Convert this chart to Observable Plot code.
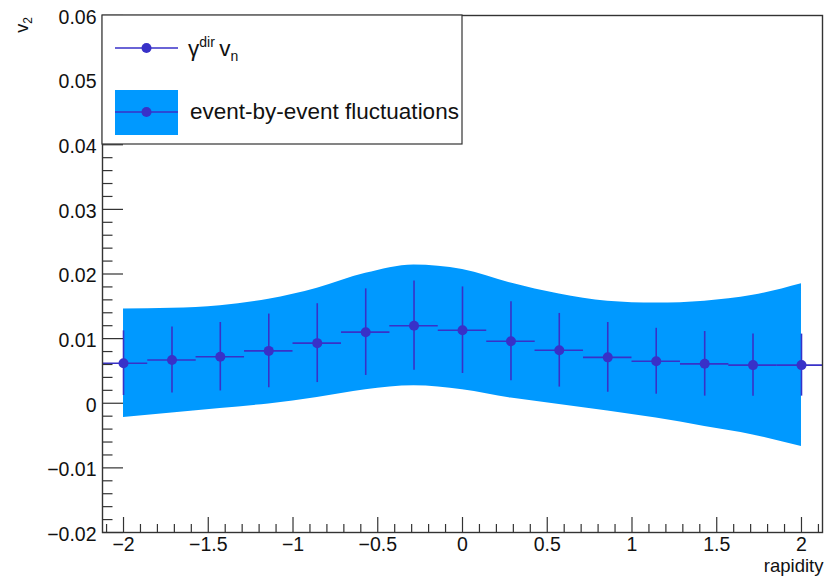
<!DOCTYPE html>
<html>
<head>
<meta charset="utf-8">
<script src="https://cdn.jsdelivr.net/npm/d3@7"></script>
<script src="https://cdn.jsdelivr.net/npm/@observablehq/plot@0.6"></script>
<style>
  html, body { margin: 0; padding: 0; background: #fff; }
  #chart svg { display: block; }
</style>
</head>
<body>
<div id="chart"></div>
<script>
// ---- data ----
const rapidity = [-2, -1.714, -1.429, -1.143, -0.857, -0.571, -0.286, 0, 0.286, 0.571, 0.857, 1.143, 1.429, 1.714, 2];
const binHalfWidth = 0.143;
const v2 = [0.0062, 0.0067, 0.0072, 0.0081, 0.0093, 0.0110, 0.0120, 0.0113, 0.0096, 0.0082, 0.0071, 0.0065, 0.0061, 0.0059, 0.0059];
const v2Err = [0.0050, 0.0051, 0.0053, 0.0057, 0.0061, 0.0067, 0.0069, 0.0067, 0.0061, 0.0057, 0.0054, 0.0051, 0.0050, 0.0048, 0.0048];
const bandUpper = [0.0146, 0.0147, 0.0151, 0.0161, 0.0178, 0.0201, 0.0214, 0.0207, 0.0186, 0.0169, 0.0158, 0.0155, 0.0158, 0.0167, 0.0185];
const bandLower = [-0.0022, -0.0015, -0.0008, -0.0001, 0.0009, 0.0021, 0.0027, 0.0021, 0.0008, -0.0002, -0.0012, -0.0023, -0.0036, -0.0049, -0.0067];

const xTickValues = [-2, -1.5, -1, -0.5, 0, 0.5, 1, 1.5, 2];
const xTickLabels = ["\u22122", "\u22121.5", "\u22121", "\u22120.5", "0", "0.5", "1", "1.5", "2"];
const yTickValues = [-0.02, -0.01, 0, 0.01, 0.02, 0.03, 0.04, 0.05, 0.06];
const yTickLabels = ["\u22120.02", "\u22120.01", "0", "0.01", "0.02", "0.03", "0.04", "0.05", "0.06"];
const xLabel = "rapidity";
const legendLabels = ["event-by-event fluctuations"];

// ---- table built from arrays ----
const points = rapidity.map((x, i) => ({
  x, y: v2[i], err: v2Err[i], lo: bandLower[i], hi: bandUpper[i]
}));

const W = 829, H = 576;
const mL = 102, mT = 15, mR = 7, mB = 44;
const frameW = W - mL - mR, frameH = H - mT - mB;
const xMinor = d3.range(-21, 22).map(i => i / 10).filter(v => Math.abs(v * 2 - Math.round(v * 2)) > 1e-6);
const yMinor = d3.range(-10, 31).map(i => i * 0.002).filter(v => Math.abs(v * 100 - Math.round(v * 100)) > 1e-6);

const markColor = "#3831c8";
const bandColor = "#0099ff";
const axisColor = "#333";
const font = "'Liberation Sans', Arial, Helvetica, sans-serif";

const chart = Plot.plot({
  width: W, height: H,
  marginLeft: mL, marginTop: mT, marginRight: mR, marginBottom: mB,
  style: { background: "#fff", fontFamily: font, color: "#111" },
  x: { domain: [-2.124, 2.124], axis: null },
  y: { domain: [-0.02, 0.06], axis: null },
  marks: [
    Plot.areaY(points, { x: "x", y1: "lo", y2: "hi", fill: bandColor, curve: "monotone-x" }),
    Plot.ruleX(points, { x: "x", y1: d => d.y - d.err, y2: d => d.y + d.err, stroke: markColor, strokeWidth: 1.6 }),
    Plot.ruleY(points, { y: "y", x1: d => d.x - binHalfWidth, x2: d => d.x + binHalfWidth, stroke: markColor, strokeWidth: 1.6, clip: true }),
    Plot.dot(points, { x: "x", y: "y", r: 5, fill: markColor, stroke: "none" }),
    // ticks
    Plot.tickX(xTickValues, { x: d => d, insetTop: frameH - 15, stroke: axisColor, strokeWidth: 1.2 }),
    Plot.tickX(xMinor, { x: d => d, insetTop: frameH - 8, stroke: axisColor, strokeWidth: 1.2 }),
    Plot.tickY(yTickValues, { y: d => d, insetRight: frameW - 21, stroke: axisColor, strokeWidth: 1.2 }),
    Plot.tickY(yMinor, { y: d => d, insetRight: frameW - 10.5, stroke: axisColor, strokeWidth: 1.2 }),
    Plot.frame({ stroke: axisColor, strokeWidth: 1.4 }),
    // tick labels
    Plot.text(yTickValues, { y: d => d, text: (d, i) => yTickLabels[i], frameAnchor: "left", textAnchor: "end", dx: -6, dy: 2, fontSize: 19.5, fill: "#111" }),
    Plot.text(xTickValues, { x: d => d, text: (d, i) => xTickLabels[i], frameAnchor: "bottom", lineAnchor: "top", dy: 5, fontSize: 19.5, fill: "#111" }),
    Plot.text([xLabel], { text: d => d, frameAnchor: "bottom-right", textAnchor: "end", lineAnchor: "top", dy: 26, dx: 1, fontSize: 18.5, fill: "#111" })
  ]
});

document.getElementById("chart").appendChild(chart);

// ---- axis title v_2 and legend (SVG overlay) ----
const svg = d3.select(chart);
const yTitle = svg.append("text")
  .attr("transform", "translate(28,17) rotate(-90)")
  .attr("text-anchor", "end")
  .attr("font-family", font)
  .attr("font-size", 18)
  .attr("fill", "#111");
yTitle.append("tspan").text("v");
yTitle.append("tspan").attr("font-size", 12).attr("dy", 4).text("2");

const lg = svg.append("g").attr("text-anchor", "start");
lg.append("rect").attr("x", 102).attr("y", 15).attr("width", 360).attr("height", 129)
  .attr("fill", "#fff").attr("stroke", axisColor).attr("stroke-width", 1.2);
// entry 1
lg.append("line").attr("x1", 115).attr("x2", 178).attr("y1", 48).attr("y2", 48)
  .attr("stroke", markColor).attr("stroke-width", 1.6);
lg.append("circle").attr("cx", 146.5).attr("cy", 48).attr("r", 5).attr("fill", markColor);
const t1 = lg.append("text").attr("x", 188).attr("y", 56).attr("text-anchor", "start")
  .attr("font-family", font).attr("font-size", 22.5).attr("fill", "#111");
t1.append("tspan").text("\u03b3");
t1.append("tspan").attr("font-size", 14).attr("dy", -9).text("dir");
t1.append("tspan").attr("dy", 9).text("\u2009v");
t1.append("tspan").attr("font-size", 14).attr("dy", 5).text("n");
// entry 2
lg.append("rect").attr("x", 115).attr("y", 90).attr("width", 63).attr("height", 45).attr("fill", bandColor);
lg.append("line").attr("x1", 115).attr("x2", 178).attr("y1", 112).attr("y2", 112)
  .attr("stroke", markColor).attr("stroke-width", 1.6);
lg.append("circle").attr("cx", 146.5).attr("cy", 112).attr("r", 5).attr("fill", markColor);
lg.append("text").attr("x", 190).attr("y", 119).attr("text-anchor", "start")
  .attr("font-family", font).attr("font-size", 22.5).attr("fill", "#111").text(legendLabels[0]);
</script>
</body>
</html>
